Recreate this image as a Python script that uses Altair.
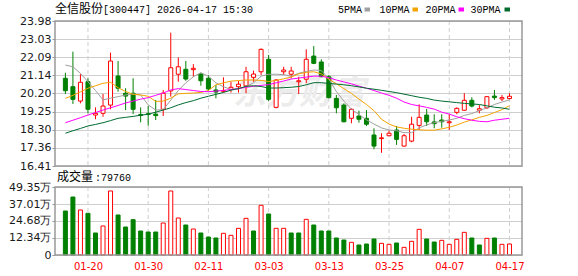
import altair as alt
import pandas as pd

# ---------------- data ----------------
opens = [20.99, 20.55, 19.80, 20.81, 19.07, 19.16, 19.59, 21.11, 20.21, 20.21,
         19.10, 19.14, 19.12, 19.37, 20.33, 21.20, 21.46, 21.44, 21.21, 20.99,
         20.38, 20.31, 20.41, 20.55, 20.59, 21.04, 21.33, 21.98, 19.47, 21.33,
         21.20, 20.81, 20.94, 22.15, 21.84, 21.07, 19.94, 19.59, 18.90, 19.02,
         18.90, 18.03, 17.84, 17.99, 18.29, 17.45, 17.71, 18.53, 19.07, 18.71,
         18.81, 18.67, 19.21, 19.32, 19.84, 19.32, 19.45, 20.06, 19.91, 19.93]
closes = [20.34, 19.89, 20.78, 19.37, 19.16, 19.54, 21.89, 20.47, 20.06, 19.37,
          19.05, 19.10, 19.04, 20.21, 21.54, 21.59, 20.95, 21.51, 20.86, 20.43,
          20.27, 20.34, 20.52, 20.68, 21.33, 21.21, 22.50, 19.89, 20.90, 21.42,
          21.37, 20.86, 21.98, 21.77, 21.07, 19.98, 19.45, 18.72, 19.37, 18.85,
          18.59, 17.45, 17.88, 18.12, 17.80, 17.99, 18.59, 18.95, 18.72, 18.62,
          18.72, 18.72, 19.42, 19.84, 19.54, 19.40, 20.03, 19.98, 19.98, 20.05]
highs = [21.28, 22.38, 21.20, 20.99, 19.47, 20.17, 22.33, 21.89, 20.47, 20.99,
         19.47, 19.54, 19.86, 20.38, 23.37, 22.08, 21.89, 21.73, 21.28, 21.16,
         20.64, 21.04, 20.81, 20.85, 21.59, 21.39, 22.55, 22.21, 20.94, 21.59,
         21.59, 21.07, 22.50, 22.67, 21.98, 21.16, 20.12, 19.68, 19.42, 19.30,
         19.33, 18.38, 18.12, 18.25, 18.50, 18.08, 18.98, 19.63, 19.39, 19.11,
         19.11, 19.11, 19.47, 20.21, 20.00, 19.59, 20.06, 20.38, 20.12, 20.21]
lows = [20.17, 19.65, 19.68, 19.16, 18.85, 18.98, 19.37, 20.29, 19.33, 19.12,
        18.69, 18.51, 18.81, 19.02, 20.03, 20.81, 20.86, 21.07, 20.60, 20.34,
        19.94, 20.24, 20.24, 20.24, 20.21, 20.81, 21.16, 19.80, 19.42, 21.16,
        20.99, 20.17, 20.73, 21.73, 21.04, 19.94, 19.16, 18.69, 18.64, 18.67,
        18.50, 17.28, 17.10, 17.97, 17.51, 17.42, 17.65, 18.29, 18.50, 18.38,
        18.41, 18.29, 19.11, 19.30, 19.47, 19.16, 19.39, 19.86, 19.80, 19.89]
# volume in 万 (10k)
volumes = [31.93, 42.09, 32.66, 30.26, 15.97, 21.05, 46.45, 29.03, 20.32, 25.64,
           17.42, 16.69, 16.69, 23.22, 46.45, 26.85, 21.77, 18.87, 15.97, 13.06,
           12.34, 15.73, 14.28, 19.35, 26.61, 17.42, 36.05, 29.76, 19.35, 19.35,
           15.97, 15.97, 25.88, 21.77, 17.42, 17.42, 12.34, 10.89, 9.19, 7.26,
           7.98, 11.61, 8.47, 7.74, 8.71, 5.56, 9.92, 18.63, 11.61, 9.43,
           10.64, 7.74, 11.37, 16.45, 12.34, 7.26, 12.09, 12.34, 7.74, 7.976]
# 1 = red (rise) volume bar, 0 = green
vol_red = [0, 0, 1, 0, 0, 1, 1, 0, 0, 0, 0, 0, 0, 1, 1, 1, 0, 1, 0, 0,
           0, 1, 1, 1, 1, 0, 1, 0, 1, 1, 0, 0, 1, 0, 0, 0, 0, 0, 1, 0,
           0, 0, 1, 1, 0, 1, 1, 1, 0, 0, 1, 1, 1, 1, 0, 0, 1, 0, 1, 1]
ma5 = [21.68, 21.59, 21.25, 20.81, 20.35, 19.86, 19.95, 20.03, 20.12, 20.17,
       20.12, 19.60, 19.33, 19.35, 19.85, 20.35, 20.75, 21.07, 21.28, 21.10,
       20.75, 20.55, 20.40, 20.45, 20.55, 20.75, 21.10, 21.20, 21.20, 21.18,
       21.10, 21.25, 21.35, 21.42, 21.40, 20.95, 20.30, 19.80, 19.38, 19.10,
       18.82, 18.60, 18.40, 18.29, 18.25, 18.15, 18.15, 18.40, 18.56, 18.67,
       18.75, 18.81, 18.90, 19.05, 19.15, 19.30, 19.45, 19.62, 19.75, 19.86]
ma10 = [19.94, 20.10, 20.28, 20.47, 20.60, 20.73, 20.78, 20.50, 20.30, 20.15,
        20.12, 20.05, 19.78, 19.80, 19.95, 20.18, 20.20, 20.22, 20.25, 20.35,
        20.65, 20.75, 20.84, 20.87, 20.90, 20.90, 20.88, 20.82, 20.88, 20.96,
        21.05, 21.22, 21.30, 21.33, 21.22, 20.95, 20.70, 20.45, 20.20, 19.90,
        19.62, 19.30, 18.85, 18.60, 18.45, 18.38, 18.33, 18.30, 18.28, 18.28,
        18.35, 18.43, 18.55, 18.70, 18.82, 18.95, 19.05, 19.20, 19.35, 19.56]
ma20 = [18.67, 18.80, 18.93, 19.07, 19.20, 19.33, 19.45, 19.57, 19.70, 19.80,
        19.90, 19.98, 20.10, 20.22, 20.38, 20.45, 20.40, 20.35, 20.30, 20.29,
        20.32, 20.36, 20.40, 20.45, 20.52, 20.57, 20.62, 20.66, 20.75, 20.85,
        20.95, 21.00, 21.05, 21.10, 21.10, 21.02, 20.90, 20.80, 20.70, 20.58,
        20.47, 20.35, 20.22, 20.10, 19.95, 19.75, 19.62, 19.55, 19.47, 19.38,
        19.22, 19.12, 18.98, 18.88, 18.80, 18.74, 18.72, 18.80, 18.85, 18.90]
ma30 = [18.12, 18.25, 18.37, 18.50, 18.58, 18.67, 18.78, 18.90, 18.95, 19.00,
        19.06, 19.11, 19.22, 19.33, 19.45, 19.60, 19.72, 19.82, 19.95, 20.05,
        20.15, 20.25, 20.37, 20.45, 20.57, 20.60, 20.56, 20.48, 20.48, 20.50,
        20.52, 20.56, 20.65, 20.76, 20.76, 20.72, 20.69, 20.65, 20.60, 20.54,
        20.47, 20.42, 20.36, 20.30, 20.24, 20.16, 20.08, 20.00, 19.94, 19.85,
        19.80, 19.76, 19.72, 19.68, 19.65, 19.62, 19.55, 19.48, 19.44, 19.37]

date_tick_index = [3, 11, 19, 27, 35, 43, 51, 59]
date_tick_labels = ["01-20", "01-30", "02-11", "03-03", "03-13", "03-25", "04-07", "04-17"]
price_ticks = [16.41, 17.36, 18.30, 19.25, 20.20, 21.14, 22.09, 23.03, 23.98]
volume_ticks = [0, 12.34, 24.68, 37.01, 49.35]
ma_names = ["5PMA", "10PMA", "20PMA", "30PMA"]
title_cn = "全信股份"
title_rest = "[300447] 2026-04-17 15:30"
vol_title_cn = "成交量"
vol_title_rest = ":79760"
watermark = "东方财富"

# ---------------- layout / styling ----------------
RED = "#ff0000"
GREEN = "#008000"
MA_COLORS = ["#a0a0a0", "#f5a300", "#ff00ff", "#006b2f"]
GRID = "#cfcfcf"
FRAME = "#999999"
W = 467          # plot width
P_TOP, P_BOT = 0, 145      # price panel (pixels inside the view)
V_TOP, V_BOT = 166, 234    # volume panel
H = V_BOT

n = len(closes)
idx = list(range(n))
df = pd.DataFrame({"i": idx, "open": opens, "close": closes, "high": highs,
                   "low": lows, "vol": volumes, "vred": vol_red})
df["dir"] = ["up" if c >= o else "down" for o, c in zip(opens, closes)]
df["lo"] = df[["open", "close"]].min(axis=1)
df["hi"] = df[["open", "close"]].max(axis=1)
df["vdir"] = ["up" if v == 1 else "down" for v in vol_red]

ma_df = pd.DataFrame({
    "i": idx * 4,
    "ma": ma5 + ma10 + ma20 + ma30,
    "name": sum([[nm] * n for nm in ma_names], []),
})
ticks_df = pd.DataFrame({"i": date_tick_index, "lab": date_tick_labels})

label_map = "{" + ",".join(f"'{k}':'{v}'" for k, v in zip(date_tick_index, date_tick_labels)) + "}"
x_axis = alt.Axis(values=date_tick_index, grid=False, labelExpr=f"{label_map}[datum.value]",
                  labelColor=RED, labelFont="DejaVu Sans", labelFontSize=10, labelPadding=6,
                  ticks=False, domain=False, title=None)
xs = alt.Scale(domain=[-0.715, 60.0], nice=False, zero=False)
X = alt.X("i:Q", scale=xs, axis=x_axis)

def ps():
    return alt.Scale(domain=[16.41, 23.98], range=[P_BOT, P_TOP], nice=False, zero=False)

def vs():
    return alt.Scale(domain=[0, 49.35], range=[V_BOT, V_TOP], nice=False, zero=False)

y_price_axis = alt.Axis(values=price_ticks, format=".2f", grid=True, gridColor=GRID,
                        domain=False, ticks=True, tickSize=3, tickColor=FRAME, orient="left",
                        labelFont="DejaVu Sans", labelFontSize=11, labelColor="#1a1a1a",
                        labelPadding=1, title=None)
y_vol_axis = alt.Axis(values=volume_ticks, grid=True, gridColor=GRID, domain=False,
                      ticks=True, tickSize=3, tickColor=FRAME, orient="left",
                      labelExpr="datum.value == 0 ? '0' : format(datum.value, '.2f') + '万'",
                      labelFont="DejaVu Sans", labelFontSize=11, labelColor="#1a1a1a",
                      labelPadding=1, title=None)
dir_color = alt.Scale(domain=["up", "down"], range=[RED, GREEN])

base = alt.Chart(df)
one = pd.DataFrame({"k": [0]})

# faint watermark behind the price panel
wm = alt.Chart(one).mark_text(align="left", baseline="middle", font="Noto Sans CJK SC",
                              fontSize=33, fontWeight="bold", fontStyle="italic",
                              color="#ececec").encode(
    x=alt.value(178), y=alt.value(73), text=alt.value(watermark))

# vertical dashed grid lines, one set per panel
vgrid_p = alt.Chart(ticks_df).mark_rule(color=GRID, strokeDash=[4, 3], strokeWidth=1).encode(
    x=X, y=alt.value(P_TOP), y2=alt.value(P_BOT))
vgrid_v = alt.Chart(ticks_df).mark_rule(color=GRID, strokeDash=[4, 3], strokeWidth=1).encode(
    x=X, y=alt.value(V_TOP), y2=alt.value(V_BOT))

wick = base.mark_rule(strokeWidth=1).encode(
    x=X, y=alt.Y("low:Q", scale=ps(), axis=y_price_axis), y2="high:Q",
    color=alt.Color("dir:N", scale=dir_color, legend=None))
body_up = base.transform_filter("datum.dir == 'up'").mark_bar(
    size=4, fill="white", stroke=RED, strokeWidth=1).encode(
    x=X, y=alt.Y("lo:Q", scale=ps(), axis=None), y2="hi:Q")
body_down = base.transform_filter("datum.dir == 'down'").mark_bar(
    size=4, fill=GREEN, stroke=GREEN, strokeWidth=1).encode(
    x=X, y=alt.Y("lo:Q", scale=ps(), axis=None), y2="hi:Q")
lines = alt.Chart(ma_df).mark_line(strokeWidth=1).encode(
    x=X, y=alt.Y("ma:Q", scale=ps(), axis=None),
    color=alt.Color("name:N", scale=alt.Scale(domain=ma_names, range=MA_COLORS), legend=None),
    order=alt.Order("i:Q"))

vol_up_bars = base.transform_filter("datum.vdir == 'up'").mark_bar(
    size=4, fill="white", stroke=RED, strokeWidth=1).encode(
    x=X, y=alt.Y("vol:Q", scale=vs(), axis=y_vol_axis), y2=alt.Y2(datum=0))
vol_down_bars = base.transform_filter("datum.vdir == 'down'").mark_bar(
    size=4, fill=GREEN, stroke=GREEN, strokeWidth=1).encode(
    x=X, y=alt.Y("vol:Q", scale=vs(), axis=None), y2=alt.Y2(datum=0))

def txt(s, x, y, font, size):
    return alt.Chart(one).mark_text(align="left", baseline="middle", font=font,
                                    fontSize=size, color="#000000").encode(
        x=alt.value(x), y=alt.value(y), text=alt.value(s))

texts = [
    txt(title_cn, 0, -12, "Noto Sans CJK SC", 12),
    txt(title_rest, 48, -11.5, "Liberation Mono", 10),
    txt(vol_title_cn, 2, V_TOP - 10, "Noto Sans CJK SC", 12),
    txt(vol_title_rest, 40, V_TOP - 9.5, "Liberation Mono", 10),
]
legend_text_x = [283, 324.5, 370.5, 415.5]
legend_box_x = [309.5, 357.5, 403.5, 449.5]
for nm, col, tx, bx in zip(ma_names, MA_COLORS, legend_text_x, legend_box_x):
    texts.append(txt(nm, tx, -11.5, "Liberation Mono", 10))
    texts.append(alt.Chart(one).mark_rect(color=col).encode(
        x=alt.value(bx), x2=alt.value(bx + 5.5), y=alt.value(-13.5), y2=alt.value(-9.5)))

frames = [
    alt.Chart(one).mark_rect(fill=None, fillOpacity=0, stroke=FRAME, strokeWidth=1.5).encode(
        x=alt.value(0), x2=alt.value(W), y=alt.value(t), y2=alt.value(b))
    for t, b in [(P_TOP, P_BOT), (V_TOP, V_BOT)]
]

chart = alt.layer(
    wm, vgrid_p, vgrid_v, wick, body_up, body_down, lines,
    vol_up_bars, vol_down_bars, *texts, *frames,
).resolve_scale(y="independent", color="independent").properties(
    width=W, height=H,
    padding={"left": 55, "top": 21, "right": 56, "bottom": 21},
    autosize=alt.AutoSizeParams(type="none"),
    background="white",
).configure_view(strokeWidth=0)

chart.save("out.html", embed_options={"renderer": "svg", "actions": False})
